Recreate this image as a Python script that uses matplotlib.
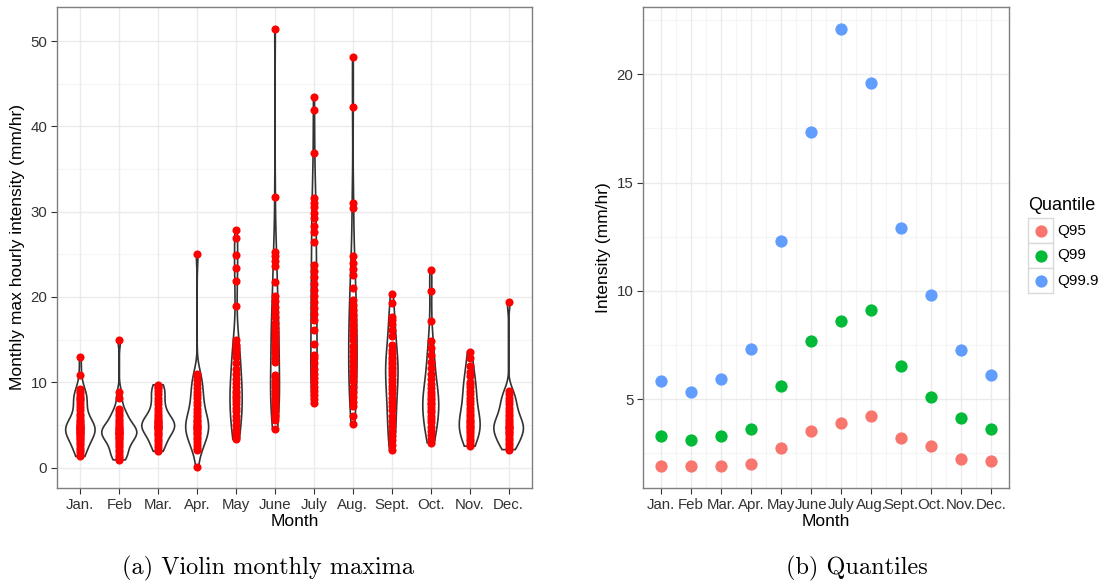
import numpy as np
import matplotlib.pyplot as plt
from matplotlib.patches import Rectangle

months = ["Jan.", "Feb", "Mar.", "Apr.", "May", "June", "July", "Aug.", "Sept.", "Oct.", "Nov.", "Dec."]

# monthly maxima (mm/hr)
jan = [1.3, 1.5, 1.8, 2.0, 2.3, 2.6, 2.9, 3.1, 3.3, 3.5, 3.7, 3.8, 4.0, 4.1, 4.2, 4.3, 4.4, 4.5, 4.5, 4.6,
       4.7, 4.8, 4.9, 5.0, 5.1, 5.3, 5.5, 5.7, 6.0, 6.3, 6.7, 7.1, 7.5, 7.8, 8.0, 8.2, 8.4, 8.7, 9.0, 9.2, 10.9, 13.0]
feb = [0.9, 1.0, 1.2, 1.5, 1.8, 2.1, 2.4, 2.7, 2.9, 3.1, 3.3, 3.5, 3.6, 3.8, 3.9, 4.0, 4.1, 4.2, 4.3, 4.4,
       4.5, 4.6, 4.8, 5.0, 5.2, 5.4, 5.7, 6.0, 6.3, 6.6, 6.9, 8.1, 8.8, 15.0]
mar = [1.9, 2.1, 2.4, 2.8, 3.1, 3.4, 3.7, 3.9, 4.1, 4.3, 4.5, 4.6, 4.7, 4.8, 4.9, 5.0, 5.1, 5.2, 5.3, 5.4,
       5.6, 5.8, 6.0, 6.3, 6.6, 7.0, 7.4, 7.8, 8.2, 8.6, 9.0, 9.3, 9.5, 9.7]
apr = [0.1, 2.1, 2.3, 2.6, 3.0, 3.3, 3.6, 3.9, 4.1, 4.3, 4.5, 4.6, 4.8, 4.9, 5.0, 5.2, 5.4, 5.6, 5.9, 6.2,
       6.5, 6.9, 7.3, 7.7, 8.1, 8.5, 8.9, 9.3, 9.8, 10.3, 10.7, 11.0, 25.0]
may = [3.3, 3.6, 4.0, 4.4, 5.0, 5.6, 6.1, 6.6, 7.0, 7.4, 7.8, 8.1, 8.4, 8.7, 9.0, 9.4, 9.9, 10.4, 11.0, 11.6,
       12.3, 13.0, 13.5, 14.0, 14.4, 15.0, 18.9, 21.9, 23.4, 24.9, 26.9, 27.9]
june = [4.5, 5.6, 5.9, 6.2, 6.6, 7.0, 7.4, 7.8, 8.2, 8.6, 9.0, 9.4, 9.8, 10.2, 10.6, 10.8, 12.4, 12.9, 13.4,
        13.9, 14.4, 14.9, 15.4, 15.9, 16.4, 17.0, 17.6, 18.2, 18.8, 19.5, 20.1, 21.8, 23.6, 24.2, 24.8, 25.3,
        31.7, 51.4]
july = [7.6, 8.0, 8.5, 9.0, 9.5, 10.0, 10.5, 11.0, 11.6, 12.2, 12.8, 13.2, 14.5, 16.1, 17.3, 18.0, 18.7, 19.4,
        20.1, 20.8, 21.5, 22.3, 23.0, 23.7, 26.5, 27.6, 28.3, 29.3, 29.9, 30.5, 31.0, 31.6, 36.9, 41.9, 43.5]
aug = [5.1, 6.0, 7.2, 7.7, 8.3, 8.9, 9.5, 10.1, 10.7, 11.3, 11.9, 12.5, 13.1, 13.7, 14.3, 14.9, 15.5, 16.1,
       16.7, 17.3, 17.9, 18.5, 19.1, 19.7, 21.1, 22.6, 23.3, 24.0, 24.8, 30.4, 31.0, 42.3, 48.1]
sept = [2.1, 2.7, 3.2, 3.7, 4.3, 4.9, 5.5, 6.1, 6.7, 7.2, 7.7, 8.2, 8.7, 9.2, 9.6, 10.0, 10.4, 10.8, 11.2,
        11.5, 11.8, 12.1, 12.4, 12.7, 13.0, 13.4, 13.8, 14.4, 15.4, 16.1, 16.8, 17.3, 17.7, 19.3, 20.4]
oct_ = [2.9, 3.3, 3.8, 4.3, 4.8, 5.3, 5.7, 6.1, 6.5, 6.8, 7.1, 7.4, 7.6, 7.9, 8.2, 8.5, 8.9, 9.3, 9.8, 10.4,
        11.0, 11.7, 12.4, 13.2, 14.0, 14.8, 17.2, 20.7, 23.2]
nov = [2.5, 2.8, 3.1, 3.4, 3.7, 4.0, 4.3, 4.5, 4.7, 4.9, 5.1, 5.3, 5.5, 5.7, 6.0, 6.3, 6.6, 7.0, 7.4, 7.8,
       8.2, 8.6, 9.0, 9.4, 9.8, 10.0, 10.7, 11.2, 11.9, 12.8, 13.6]
dec = [2.1, 2.3, 2.6, 2.9, 3.2, 3.5, 3.8, 4.0, 4.2, 4.4, 4.6, 4.7, 4.8, 5.0, 5.2, 5.4, 5.7, 6.0, 6.3, 6.6,
       7.0, 7.4, 7.8, 8.2, 8.6, 9.0, 19.4]
maxima = [jan, feb, mar, apr, may, june, july, aug, sept, oct_, nov, dec]

# quantiles (mm/hr)
q95 = [1.92, 1.92, 1.92, 2.02, 2.73, 3.52, 3.92, 4.21, 3.22, 2.83, 2.22, 2.13]
q99 = [3.32, 3.13, 3.32, 3.62, 5.60, 7.70, 8.61, 9.10, 6.51, 5.11, 4.13, 3.62]
q999 = [5.83, 5.32, 5.92, 7.31, 12.31, 17.33, 22.08, 19.58, 12.90, 9.81, 7.29, 6.11]
quant_labels = ["Q95", "Q99", "Q99.9"]
quant_colors = ["#F8766D", "#00BA38", "#619CFF"]

plt.rcParams['font.family'] = ['Liberation Sans', 'DejaVu Sans']

GRID_MAJ = "#EBEBEB"
GRID_MIN = "#F5F5F5"
TXT = "#333333"
TICK_FS = 10.8
TITLE_FS = 12.5


def kde(vals):
    # gaussian density with R's nrd0 bandwidth, trimmed to the data range
    v = np.asarray(vals, float)
    n = len(v)
    iqr = np.subtract(*np.percentile(v, [75, 25]))
    bw = 0.9 * min(v.std(ddof=1), iqr / 1.34) * n ** -0.2
    grid = np.linspace(v.min(), v.max(), 512)
    d = np.exp(-0.5 * ((grid[:, None] - v[None, :]) / bw) ** 2).sum(1) / (n * bw * np.sqrt(2 * np.pi))
    return grid, d


def style(ax):
    ax.set_facecolor("white")
    for s in ax.spines.values():
        s.set_color("#7F7F7F")
        s.set_linewidth(1.0)
    ax.tick_params(colors="#333333", labelcolor=TXT, labelsize=TICK_FS, length=4, width=0.8, pad=3)
    ax.set_axisbelow(True)


fig = plt.figure(figsize=(11.04, 5.85), dpi=100)
ax1 = fig.add_axes([57 / 1104, 1 - 488 / 585, 475 / 1104, 481 / 585])
ax2 = fig.add_axes([643 / 1104, 1 - 488 / 585, 366 / 1104, 481 / 585])

# ---- (a) violins ----
style(ax1)
xpos = np.arange(1, 13)
dens = [kde(m) for m in maxima]
dmax = max(d.max() for _, d in dens)
for x, (g, d), vals in zip(xpos, dens, maxima):
    w = 0.45 * d / dmax
    ax1.fill(np.r_[x - w, (x + w)[::-1]], np.r_[g, g[::-1]], facecolor="white",
             edgecolor="#333333", linewidth=1.2, zorder=2)
    ax1.scatter(np.full(len(vals), x), vals, s=34, color="#FF0000", linewidths=0, zorder=3)

ax1.set_xlim(0.4, 12.6)
ax1.set_ylim(-2.4, 54.0)
ax1.set_xticks(xpos)
ax1.set_xticklabels(months)
ax1.set_yticks([0, 10, 20, 30, 40, 50])
for yv in [5, 15, 25, 35, 45]:
    ax1.axhline(yv, color=GRID_MIN, lw=0.8, zorder=0)
ax1.grid(True, color=GRID_MAJ, lw=1.0, zorder=0)
ax1.set_xlabel("Month", fontsize=TITLE_FS, color="black", labelpad=2)
ax1.set_ylabel("Monthly max hourly intensity (mm/hr)", fontsize=TITLE_FS, color="black", labelpad=4)

# ---- (b) quantiles ----
style(ax2)
for vals, lab, col in zip([q95, q99, q999], quant_labels, quant_colors):
    ax2.scatter(xpos, vals, s=78, color=col, linewidths=0, zorder=3, label=lab)
ax2.set_xlim(0.4, 12.6)
ax2.set_ylim(0.9, 23.1)
ax2.set_xticks(xpos)
ax2.set_xticklabels(months)
ax2.set_yticks([5, 10, 15, 20])
for yv in [2.5, 7.5, 12.5, 17.5, 22.5]:
    ax2.axhline(yv, color=GRID_MIN, lw=0.8, zorder=0)
for xv in xpos[:-1] + 0.5:
    ax2.axvline(xv, color=GRID_MIN, lw=0.8, zorder=0)
ax2.grid(True, color=GRID_MAJ, lw=1.0, zorder=0)
ax2.set_xlabel("Month", fontsize=TITLE_FS, color="black", labelpad=2)
ax2.set_ylabel("Intensity (mm/hr)", fontsize=TITLE_FS, color="black", labelpad=4)

# ---- legend, drawn ggplot style with key boxes ----
lax = fig.add_axes([1026 / 1104, 1 - 295 / 585, 78 / 1104, 97 / 585])
lax.set_xlim(0, 78)
lax.set_ylim(97, 0)
lax.axis("off")
lax.text(2, 7, "Quantile", fontsize=13, va="center", ha="left")
for i, (lab, col) in enumerate(zip(quant_labels, quant_colors)):
    y0 = 20 + i * 25
    lax.add_patch(Rectangle((2, y0), 25, 25, facecolor="white", edgecolor="#D9D9D9", lw=1))
    lax.scatter([14.5], [y0 + 12.5], s=78, color=col, linewidths=0)
    lax.text(31, y0 + 12.5, lab, fontsize=11, va="center", ha="left")

# ---- sub-captions ----
fig.text(268 / 1104, 1 - 568 / 585, "(a) Violin monthly maxima", family="cmr10", fontsize=17.5,
         ha="center", va="center")
fig.text(857 / 1104, 1 - 568 / 585, "(b) Quantiles", family="cmr10", fontsize=17.5,
         ha="center", va="center")

fig.savefig("out.png", dpi=100)
